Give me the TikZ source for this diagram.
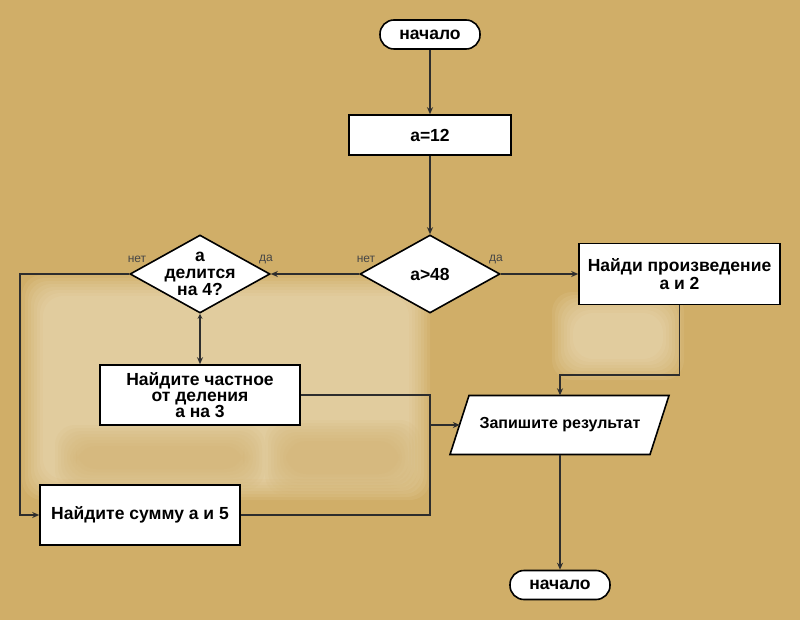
\documentclass[tikz,border=0pt]{standalone}
\usepackage{fontspec}
\setmainfont{Liberation Sans}
\usetikzlibrary{arrows.meta,shapes.geometric}
\definecolor{paper}{RGB}{208,174,104}
\definecolor{glow}{RGB}{245,235,210}
\definecolor{ln}{RGB}{45,45,45}
\definecolor{lbl}{RGB}{70,70,70}
\tikzset{
  x=1pt,y=-1pt,
  every node/.style={font=\fontsize{17.5}{18}\selectfont\bfseries},
  boxnode/.style={draw=black,line width=1.6pt,fill=white,rectangle,minimum width=#1,inner sep=0pt,align=center},
  term/.style={draw=black,line width=1.6pt,fill=white,rectangle,rounded corners=14pt,minimum width=100pt,minimum height=29pt,inner sep=0pt},
  dia/.style={draw=black,line width=1.6pt,fill=white,diamond,minimum width=140pt,minimum height=78pt,inner sep=0pt},
  ghost/.style={rectangle,minimum width=200pt,minimum height=59pt,inner sep=0pt},
  conn/.style={draw=ln,line width=1.6pt},
  arr/.style={conn,-{Stealth[length=7pt,width=6pt]}},
  yn/.style={font=\fontsize{12}{12}\selectfont,text=lbl}
}
\newcommand{\softbox}[5]{% x1 y1 x2 y2 color
  \foreach \k in {0,...,7}{
    \fill[#5,opacity=0.09,rounded corners=20pt] ({#1+3*\k},{#2+3*\k}) rectangle ({#3-3*\k},{#4-3*\k});
  }}
\begin{document}
\begin{tikzpicture}
\fill[paper] (0,0) rectangle (800,620);
\useasboundingbox (0,0) rectangle (800,620);
% soft glow areas
\softbox{22}{275}{430}{500}{glow}
\softbox{55}{425}{265}{490}{paper}
\softbox{265}{420}{420}{495}{paper}
\softbox{552}{292}{684}{380}{glow}
% nodes
\node[term] (t1) at (430,34.5) {начало};
\node[boxnode=162pt,minimum height=40pt] (b1) at (430,135) {a=12};
\node[dia] (d1) at (430,274) {};
\node at (d1) {a>48};
\node[dia] (d2) at (200,274) {};
\node[align=center,font=\fontsize{17.5}{17}\selectfont\bfseries] at (200,274) {а\\делится\\на 4?};
\node[boxnode=201pt,minimum height=61pt,font=\fontsize{17.5}{18}\selectfont\bfseries] (b2) at (679.5,274) {Найди произведение\\а и 2};
\node[boxnode=200pt,minimum height=60pt,font=\fontsize{17.5}{16}\selectfont\bfseries] (b3) at (200,395) {Найдите частное\\от деления\\а на 3};
\node[boxnode=200pt,minimum height=60pt] (b4) at (140,515) {Найдите сумму а и 5};
\node[ghost] (pw) at (560,425) {};
\draw[line width=1.6pt,fill=white] (469,395.5) -- (669,395.5) -- (650,454.5) -- (450,454.5) -- cycle;
\node[font=\fontsize{16}{16}\selectfont\bfseries] at (pw) {Запишите результат};
\node[term] (t2) at (560,585) {начало};
% helper coordinates
\coordinate (kL) at (20,515);
\coordinate (j1) at (430,395);
\coordinate (j2) at (430,515);
\coordinate (j3) at (430,425);
\coordinate (k2) at (560,375);
% connectors
\draw[arr] (t1) -- (b1);
\draw[arr] (b1) -- (d1);
\draw[arr] (d1.east) -- (b2.west);
\draw[arr] (d1.west) -- (d2.east);
\draw[conn,{Stealth[length=5pt,width=5pt]}-{Stealth[length=7pt,width=6pt]}] (d2.south) -- (b3.north);
\draw[arr] (d2.west) -| (kL) -- (b4.west);
\draw[conn] (b3.east) -- (j1) -- (j2) -- (b4.east);
\draw[arr] (j3) -- (pw.west);
\draw[arr] (b2.south) |- (k2) -- (pw.north);
\draw[arr] (pw.south) -- (t2.north);
% yes/no labels
\node[yn] (n2) at (137,259) {нет};
\node[yn] (y2) at (266,259) {да};
\node[yn] (n1) at (366,259) {нет};
\node[yn] (y1) at (496,259) {да};
\end{tikzpicture}
\end{document}
